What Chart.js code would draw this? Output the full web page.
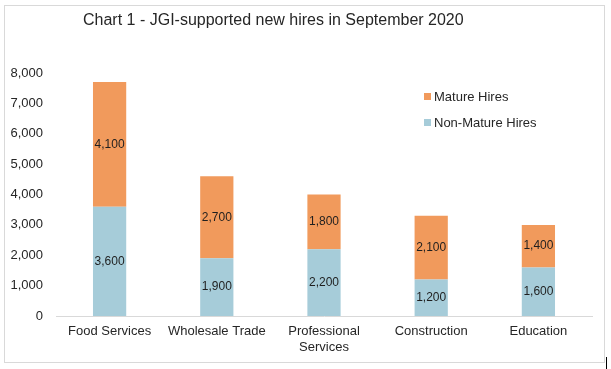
<!DOCTYPE html>
<html>
<head>
<meta charset="utf-8">
<script src="https://cdn.jsdelivr.net/npm/chart.js@4"></script>
<style>
    html, body { margin: 0; padding: 0; background: #fff; }
    #wrap { width: 611px; height: 369px; }
</style>
</head>
<body>
<div id="wrap"><canvas id="hires-chart" width="611" height="369"></canvas></div>
<script>
const categories = ['Food Services', 'Wholesale Trade', ['Professional', 'Services'], 'Construction', 'Education'];
const nonMatureHires = [3600, 1900, 2200, 1200, 1600];
const matureHires = [4100, 2700, 1800, 2100, 1400];
const yTicks = [0, 1000, 2000, 3000, 4000, 5000, 6000, 7000, 8000];

const chartTitle = 'Chart 1 - JGI-supported new hires in September 2020';
const textColor = '#262626';
const fontFamily = '"Liberation Sans", Arial, sans-serif';

// border, title, legend and segment labels drawn by hand
const decorations = {
    id: 'decorations',
    beforeDraw(chart) {
        const ctx = chart.ctx;
        ctx.save();
        ctx.strokeStyle = '#d9d9d9';
        ctx.lineWidth = 1;
        ctx.strokeRect(4.5, 5.5, 600, 357);
        ctx.restore();
    },
    afterDatasetsDraw(chart) {
        const ctx = chart.ctx;
        ctx.save();
        ctx.fillStyle = textColor;
        ctx.textBaseline = 'middle';

        ctx.font = '16px ' + fontFamily;
        ctx.textAlign = 'left';
        ctx.fillText(chartTitle, 83, 21);

        // legend, top item = last dataset
        ctx.font = '13px ' + fontFamily;
        const items = chart.data.datasets.slice().reverse();
        items.forEach((ds, i) => {
            const y = 96 + i * 26;
            ctx.fillStyle = ds.backgroundColor;
            ctx.fillRect(424, y - 3, 7, 7);
            ctx.fillStyle = textColor;
            ctx.fillText(ds.label, 434, y + 1);
        });

        // value labels in the middle of each segment
        ctx.font = '12px ' + fontFamily;
        ctx.textAlign = 'center';
        ctx.fillStyle = '#1f1f1f';
        chart.data.datasets.forEach((ds, di) => {
            const meta = chart.getDatasetMeta(di);
            meta.data.forEach((bar, i) => {
                const p = bar.getProps(['x', 'y', 'base'], true);
                ctx.fillText(ds.data[i].toLocaleString('en-US'), p.x, (p.y + p.base) / 2);
            });
        });

        ctx.fillStyle = '#000';
        ctx.fillRect(606, 357, 1, 12);
        ctx.restore();
    }
};

const ctx = document.getElementById('hires-chart').getContext('2d');

new Chart(ctx, {
    type: 'bar',
    data: {
        labels: categories,
        datasets: [{
            label: 'Non-Mature Hires',
            data: nonMatureHires,
            backgroundColor: '#a6ccd9',
            barPercentage: 0.31,
            categoryPercentage: 1,
        }, {
            label: 'Mature Hires',
            data: matureHires,
            backgroundColor: '#f19a5c',
            barPercentage: 0.31,
            categoryPercentage: 1,
        }],
    },
    options: {
        responsive: false,
        animation: false,
        layout: {
            padding: { top: 73, right: 19, bottom: 0, left: 0 },
        },
        plugins: {
            legend: { display: false },
            title: { display: false },
            tooltip: { enabled: false },
        },
        scales: {
            x: {
                stacked: true,
                grid: { display: false, drawTicks: false },
                border: { color: '#d9d9d9' },
                ticks: {
                    color: textColor,
                    font: { family: fontFamily, size: 13 },
                    maxRotation: 0,
                    autoSkip: false,
                    padding: 8,
                },
                afterFit(scale) { scale.height = 53; },
            },
            y: {
                stacked: true,
                min: 0,
                max: 8000,
                grid: { display: false, drawTicks: false },
                border: { display: false },
                afterBuildTicks(scale) { scale.ticks = yTicks.map(v => ({ value: v })); },
                ticks: {
                    color: textColor,
                    font: { family: fontFamily, size: 13 },
                    padding: 13,
                    callback: v => v.toLocaleString('en-US'),
                },
                afterFit(scale) { scale.width = 56; },
            },
        },
    },
    plugins: [decorations],
});
</script>
</body>
</html>
